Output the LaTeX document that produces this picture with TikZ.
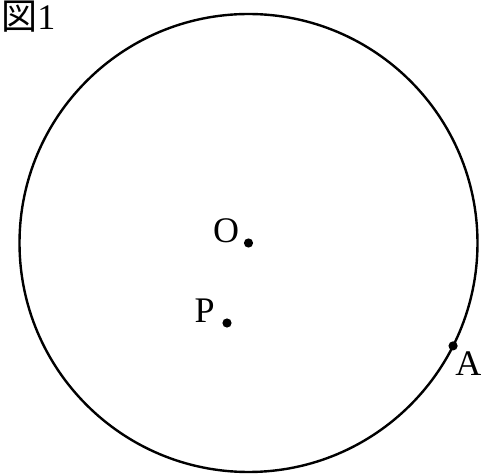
\documentclass[tikz,border=0pt]{standalone}
\usepackage{fontspec}
\setmainfont{Liberation Serif}
\newfontfamily\cjkfont{Noto Sans CJK JP}
\usetikzlibrary{calc}

\begin{document}
\begin{tikzpicture}[
    x=0.5pt, y=-0.5pt,
    every node/.style={font=\fontsize{18}{20}\selectfont},
    rim/.style={
        draw,
        line width=1.2pt
    },
    dot/.style={
        circle,
        fill=black,
        inner sep=0pt,
        minimum size=4.6pt
    },
    lbl/.style={
        inner sep=0pt
    }
]

    % frame
    \useasboundingbox (0,0) rectangle (483,476);

    % figure title
    \node[lbl, anchor=north west] (title) at (1,1) {{\cjkfont 図}1};

    % circle and points
    \coordinate (centre) at (248.5,243);
    \draw[rim] (centre) circle[radius=229];

    \node[dot] (o) at (centre) {};
    \node[dot] (p) at (227,323) {};
    \node[dot] (a) at ($(centre)+(26.7:229)$) {};

    % labels
    \node[lbl, anchor=base east] (olabel) at ($(o)+(-9,0)$) {O};
    \node[lbl, anchor=base east] (plabel) at ($(p)+(-12,0)$) {P};
    \node[lbl, anchor=base west] (alabel) at ($(a)+(2,30)$) {A};

\end{tikzpicture}
\end{document}
